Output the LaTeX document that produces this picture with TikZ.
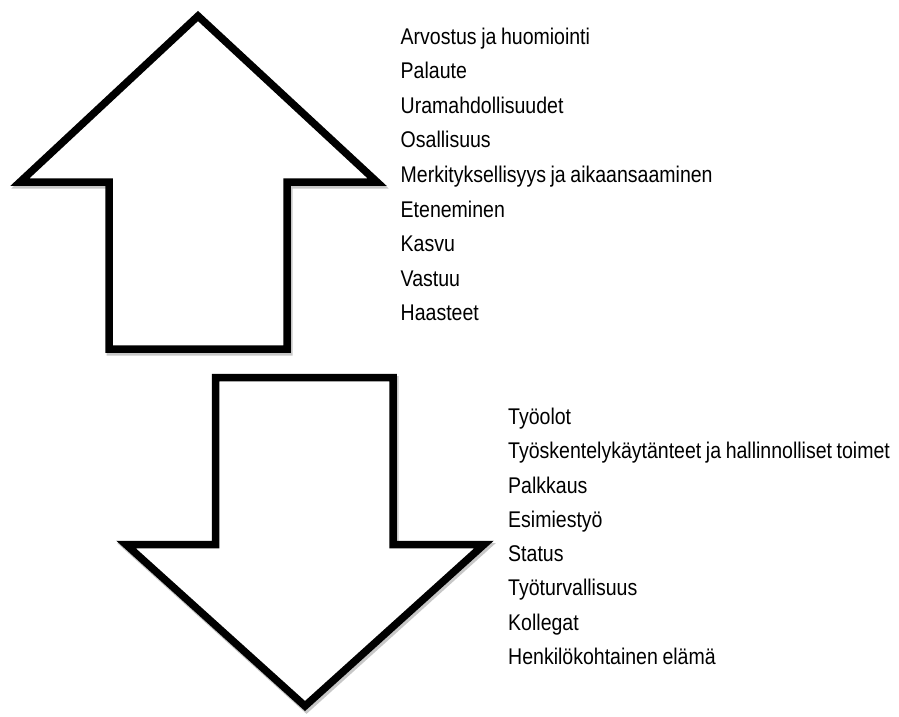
\documentclass[tikz,border=0pt]{standalone}
\usepackage{fontspec}
\setmainfont[FakeStretch=0.86, WordSpace=0.85]{Liberation Sans}
\usepackage{tikz}

\begin{document}
\begin{tikzpicture}[
    x=1pt, y=-1pt,
    bigarrow/.style={draw=black, fill=white, line width=7.5pt, miter limit=20},
    shade/.style={draw=black!22, line width=8pt, miter limit=20},
    item/.style={anchor=base west, inner sep=0pt,
                 font=\fontsize{22.7}{34}\selectfont}
]
  \useasboundingbox (0,0) rectangle (899,716);

  % up arrow
  \draw[shade, shift={(1.5,2.5)}] (198,16) -- (377,182) -- (287,182) -- (287,349)
        -- (109,349) -- (109,182) -- (20,182) -- cycle;
  \draw[bigarrow] (198,16) -- (377,182) -- (287,182) -- (287,349)
        -- (109,349) -- (109,182) -- (20,182) -- cycle;

  % down arrow
  \draw[shade, shift={(1.5,2.5)}] (215.5,377.5) -- (393,377.5) -- (393,544.5) -- (484,544.5)
        -- (305,706) -- (126,544.5) -- (215.5,544.5) -- cycle;
  \draw[bigarrow] (215.5,377.5) -- (393,377.5) -- (393,544.5) -- (484,544.5)
        -- (305,706) -- (126,544.5) -- (215.5,544.5) -- cycle;

  \foreach \txt [count=\i from 0] in {Arvostus ja huomiointi, Palaute,
      Uramahdollisuudet, Osallisuus, Merkityksellisyys ja aikaansaaminen,
      Eteneminen, Kasvu, Vastuu, Haasteet}
    \node[item] (up\i) at (400.5,{44+34.6*\i}) {\txt};

  \foreach \txt [count=\i from 0] in {Työolot,
      Työskentelykäytänteet ja hallinnolliset toimet, Palkkaus, Esimiestyö,
      Status, Työturvallisuus, Kollegat, Henkilökohtainen elämä}
    \node[item] (down\i) at (508,{424.5+34.25*\i}) {\txt};
\end{tikzpicture}
\end{document}
